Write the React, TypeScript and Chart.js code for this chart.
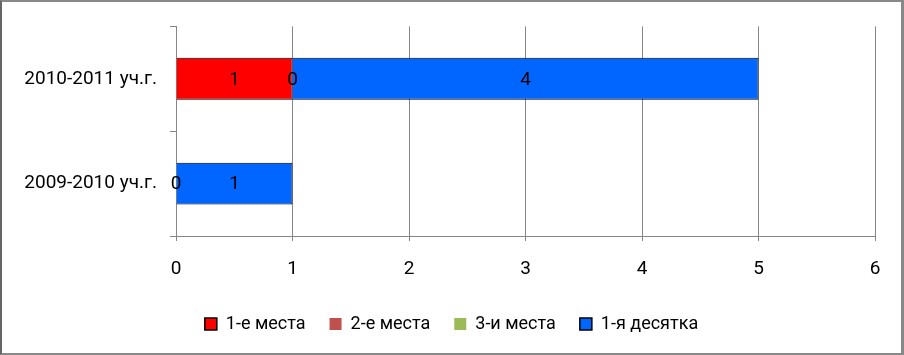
import React, { useEffect, useRef } from "react";
import { Chart, registerables } from "chart.js";

Chart.register(...registerables);

const categories = ["2010-2011 уч.г.", "2009-2010 уч.г."];
const seriesNames = ["1-е места", "2-е места", "3-и места", "1-я десятка"];
const firstPlaces: (number | null)[] = [1, 0];
const secondPlaces: (number | null)[] = [0, null];
const thirdPlaces: (number | null)[] = [null, null];
const topTen: (number | null)[] = [4, 1];
const xTicks = [0, 1, 2, 3, 4, 5, 6];

const FONT = "Roboto";

const dataLabelPlugin = {
  id: "dataLabels",
  afterDatasetsDraw(chart: any) {
    const ctx = chart.ctx;
    ctx.save();
    ctx.font = `19px ${FONT}`;
    ctx.fillStyle = "#000";
    ctx.textAlign = "center";
    ctx.textBaseline = "middle";
    chart.data.datasets.forEach((ds: any, di: number) => {
      const meta = chart.getDatasetMeta(di);
      meta.data.forEach((el: any, i: number) => {
        const v = ds.data[i];
        if (v === null || v === undefined) return;
        const cx = (el.x + el.base) / 2;
        ctx.fillText(String(v), cx, el.y + 1);
      });
    });
    ctx.restore();
  },
};

export default function App() {
  const ref = useRef<HTMLCanvasElement>(null);
  useEffect(() => {
    document.body.style.margin = "0";
    const chart = new Chart(ref.current!, {
      type: "bar",
      data: {
        labels: categories,
        datasets: [
          {
            label: seriesNames[0],
            data: firstPlaces,
            backgroundColor: "#FF0000",
            borderColor: "#000000",
            borderWidth: 1,
          },
          {
            label: seriesNames[1],
            data: secondPlaces,
            backgroundColor: "#C0504D",
            borderColor: "#000000",
            borderWidth: 0,
          },
          {
            label: seriesNames[2],
            data: thirdPlaces,
            backgroundColor: "#9BBB59",
            borderColor: "#000000",
            borderWidth: 0,
          },
          {
            label: seriesNames[3],
            data: topTen,
            backgroundColor: "#0066FF",
            borderColor: "#000000",
            borderWidth: 1,
          },
        ],
      },
      options: {
        indexAxis: "y",
        responsive: false,
        animation: false,
        maintainAspectRatio: false,
        categoryPercentage: 1,
        barPercentage: 0.4,
        layout: { padding: { left: 0, right: 0, top: 21, bottom: 10 } },
        plugins: {
          tooltip: { enabled: false },
          legend: {
            position: "bottom",
            labels: {
              font: { family: FONT, size: 18 },
              color: "#000",
              boxWidth: 12,
              boxHeight: 12,
              padding: 24,
              generateLabels(chart: any) {
                return chart.data.datasets.map((ds: any, i: number) => ({
                  text: ds.label,
                  fillStyle: ds.backgroundColor,
                  strokeStyle: "#000",
                  lineWidth: ds.borderWidth ? 1.5 : 0,
                  hidden: false,
                  datasetIndex: i,
                  fontColor: "#000",
                }));
              },
            },
          },
        },
        scales: {
          x: {
            stacked: true,
            min: 0,
            max: 6,
            afterBuildTicks(scale: any) {
              scale.ticks = xTicks.map((v) => ({ value: v }));
            },
            afterFit(scale: any) {
              scale.height = 55;
            },
            grid: {
              color: "#868686",
              lineWidth: 1,
              tickLength: 5,
            },
            border: { color: "#868686" },
            ticks: {
              font: { family: FONT, size: 19 },
              color: "#000",
              padding: 17,
            },
          },
          y: {
            stacked: true,
            afterFit(scale: any) {
              scale.width = 174;
            },
            grid: {
              offset: true,
              drawOnChartArea: false,
              color: "#868686",
              tickLength: 6,
            },
            border: { color: "#868686" },
            ticks: {
              font: { family: FONT, size: 19 },
              color: "#000",
              padding: 13,
            },
          },
          pad: {
            type: "linear",
            position: "right",
            display: true,
            afterFit(scale: any) {
              scale.width = 26;
            },
            grid: { display: false, drawTicks: false },
            border: { display: false },
            ticks: { display: false },
          },
        },
      },
      plugins: [dataLabelPlugin],
    } as any);
    return () => chart.destroy();
  }, []);
  return (
    <div
      style={{
        width: 904,
        height: 355,
        boxSizing: "border-box",
        borderTop: "2px solid #888",
        borderRight: "3px solid #888",
        borderBottom: "2px solid #888",
        borderLeft: "2px solid #666",
        background: "#fff",
        overflow: "hidden",
      }}
    >
      <canvas ref={ref} width={899} height={351} style={{ display: "block" }} />
    </div>
  );
}
